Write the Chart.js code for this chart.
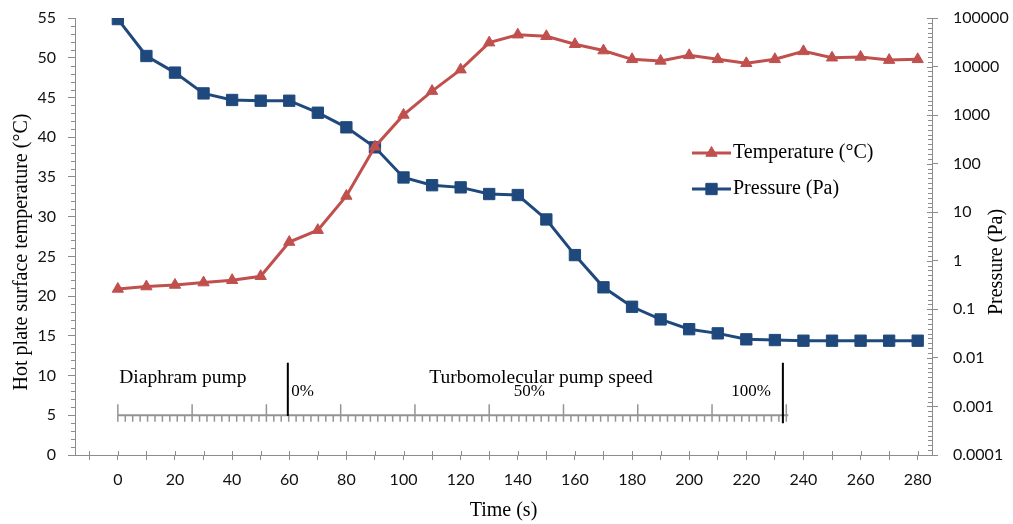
<!DOCTYPE html>
<html><head><meta charset="utf-8">
<script src="https://cdn.jsdelivr.net/npm/chart.js@4.4.1/dist/chart.umd.min.js"></script>
<style>html,body{margin:0;padding:0;background:#fff;}canvas{display:block;}</style>
</head><body>
<canvas id="c" width="1013" height="524"></canvas>
<script>
// ---- data ----
const times = [0,10,20,30,40,50,60,70,80,90,100,110,120,130,140,150,160,170,180,190,200,210,220,230,240,250,260,270,280];
const temperature = [20.9,21.2,21.4,21.7,22.0,22.5,26.8,28.3,32.6,38.8,42.8,45.8,48.5,51.9,52.9,52.7,51.7,50.9,49.8,49.6,50.3,49.8,49.3,49.8,50.8,50.0,50.1,49.7,49.8];
const pressure = [95000,16500,7500,2800,2050,1980,1980,1120,560,217,52,36,32.5,23.7,22.6,7.1,1.31,0.284,0.113,0.062,0.039,0.032,0.0241,0.0233,0.0226,0.0226,0.0226,0.0226,0.0226];
const xTickValues = [-10,0,10,20,30,40,50,60,70,80,90,100,110,120,130,140,150,160,170,180,190,200,210,220,230,240,250,260,270,280];
const xTickLabels = [0,20,40,60,80,100,120,140,160,180,200,220,240,260,280];
const yLeftTicks = [0,5,10,15,20,25,30,35,40,45,50,55];
const yRightTicks = [0.0001,0.001,0.01,0.1,1,10,100,1000,10000,100000];
// pump-speed ruler (time units)
const rulerMajor = [0,26,52,78,104,130,156,182,208,234];
const pumpMarkers = [59.5, 232.8];
const rulerLabels = ['Diaphram pump','Turbomolecular pump speed','0%','50%','100%'];

const RED = '#C0504D', BLUE = '#1F497D', AXIS = '#8c8c8c';
const SERIF = '"Liberation Serif", "Times New Roman", serif';
const SANS = 'Lato, "Open Sans", sans-serif';

const annot = {
  labels: [
    {t:0, x:0.5, y:9.0, size:19.5},
    {t:1, x:109, y:9.0, size:19.5},
    {t:2, x:60.7, y:7.4, size:17},
    {t:3, x:138.6, y:7.45, size:17},
    {t:4, x:214.7, y:7.4, size:17}
  ]
};

const noPad = s => { s.paddingTop = 0; s.paddingBottom = 0; s.paddingLeft = 0; s.paddingRight = 0; };

const decor = {
  id: 'decor',
  afterDraw(chart) {
    const {ctx, chartArea: a, scales: {x, y, y2}} = chart;
    ctx.save();
    ctx.strokeStyle = AXIS; ctx.lineWidth = 1;
    ctx.beginPath();
    for (let v = 0; v <= 55; v++) {
      if (v % 5 === 0) continue;
      const py = Math.round(y.getPixelForValue(v)) + 0.5;
      ctx.moveTo(a.left - 4, py); ctx.lineTo(a.left, py);
    }
    for (let i = 0; i < yRightTicks.length - 1; i++) {
      const p0 = y2.getPixelForValue(yRightTicks[i]), p1 = y2.getPixelForValue(yRightTicks[i + 1]);
      for (let k = 1; k < 10; k++) {
        const py = Math.round(p0 + (p1 - p0) * k / 10) + 0.5;
        ctx.moveTo(a.right - 4, py); ctx.lineTo(a.right, py);
      }
    }
    yRightTicks.forEach(v => {
      const py = Math.round(y2.getPixelForValue(v)) + 0.5;
      ctx.moveTo(a.right - 5, py); ctx.lineTo(a.right, py);
    });
    xTickValues.forEach(v => {
      const px = Math.round(x.getPixelForValue(v)) + 0.5;
      ctx.moveTo(px, a.bottom - 4); ctx.lineTo(px, a.bottom);
    });
    ctx.stroke();

    // ruler
    const ry = y.getPixelForValue(5);
    ctx.strokeStyle = '#949494';
    ctx.lineWidth = 2;
    ctx.beginPath();
    ctx.moveTo(x.getPixelForValue(rulerMajor[0]), ry);
    ctx.lineTo(x.getPixelForValue(rulerMajor[rulerMajor.length - 1]) + 2, ry);
    ctx.stroke();
    ctx.lineWidth = 1.5;
    ctx.beginPath();
    rulerMajor.forEach(v => {
      const px = x.getPixelForValue(v);
      ctx.moveTo(px, y.getPixelForValue(6.4)); ctx.lineTo(px, y.getPixelForValue(4.2));
    });
    for (let i = 0; i < rulerMajor.length - 1; i++) {
      const s = (rulerMajor[i + 1] - rulerMajor[i]) / 10;
      for (let k = 1; k < 10; k++) {
        const px = x.getPixelForValue(rulerMajor[i] + s * k);
        ctx.moveTo(px, ry); ctx.lineTo(px, y.getPixelForValue(4.2));
      }
    }
    ctx.stroke();
    ctx.strokeStyle = '#000'; ctx.lineWidth = 2;
    ctx.beginPath();
    ctx.moveTo(x.getPixelForValue(pumpMarkers[0]), y.getPixelForValue(11.6));
    ctx.lineTo(x.getPixelForValue(pumpMarkers[0]), y.getPixelForValue(4.9));
    ctx.moveTo(x.getPixelForValue(pumpMarkers[1]), y.getPixelForValue(11.6));
    ctx.lineTo(x.getPixelForValue(pumpMarkers[1]), y.getPixelForValue(4.0));
    ctx.stroke();
    ctx.fillStyle = '#000'; ctx.textBaseline = 'alphabetic'; ctx.textAlign = 'left';
    annot.labels.forEach(l => {
      ctx.font = l.size + 'px ' + SERIF;
      ctx.fillText(rulerLabels[l.t], x.getPixelForValue(l.x), y.getPixelForValue(l.y));
    });

    // axis titles
    ctx.font = '20px ' + SERIF; ctx.textAlign = 'center'; ctx.textBaseline = 'middle';
    ctx.save(); ctx.translate(22, 252); ctx.rotate(-Math.PI / 2);
    ctx.fillText('Hot plate surface temperature (°C)', 0, 0); ctx.restore();
    ctx.save(); ctx.translate(997, 262); ctx.rotate(-Math.PI / 2);
    ctx.fillText('Pressure (Pa)', 0, 0); ctx.restore();

    // legend
    const lg = {x0: 692, x1: 731, tx: 733, ys: [153, 189]};
    chart.data.datasets.forEach((ds, i) => {
      const ly = lg.ys[i];
      ctx.strokeStyle = ds.borderColor; ctx.lineWidth = 3;
      ctx.beginPath(); ctx.moveTo(lg.x0, ly); ctx.lineTo(lg.x1, ly); ctx.stroke();
      ctx.fillStyle = ds.backgroundColor; ctx.strokeStyle = ds.borderColor; ctx.lineWidth = 1;
      Chart.helpers.drawPoint(ctx, {pointStyle: ds.pointStyle, radius: ds.pointRadius, borderWidth: 1, rotation: 0},
        (lg.x0 + lg.x1) / 2, ly);
      ctx.fillStyle = '#000'; ctx.font = '20px ' + SERIF; ctx.textAlign = 'left'; ctx.textBaseline = 'middle';
      ctx.fillText(ds.label, lg.tx, ly);
    });
    ctx.restore();
  }
};

new Chart(document.getElementById('c'), {
  type: 'line',
  data: {
    datasets: [
      {label: 'Temperature (°C)', data: times.map((t, i) => ({x: t, y: temperature[i]})), yAxisID: 'y',
       borderColor: RED, backgroundColor: RED, borderWidth: 3, pointStyle: 'triangle', pointRadius: 6.5,
       pointBorderWidth: 1, pointBorderColor: RED, pointBackgroundColor: RED, tension: 0},
      {label: 'Pressure (Pa)', data: times.map((t, i) => ({x: t, y: pressure[i]})), yAxisID: 'y2',
       borderColor: BLUE, backgroundColor: BLUE, borderWidth: 3, pointStyle: 'rect', pointRadius: 8,
       pointBorderWidth: 1, pointBorderColor: BLUE, pointBackgroundColor: BLUE, tension: 0}
    ]
  },
  options: {
    responsive: false, animation: false,
    layout: {padding: {top: 18, left: 0, right: 0, bottom: 0}},
    plugins: {legend: {display: false}, tooltip: {enabled: false}},
    scales: {
      x: {
        type: 'linear', min: -15, max: 285,
        afterBuildTicks: s => { s.ticks = xTickValues.map(v => ({value: v})); },
        afterFit: s => { s.height = 69; noPad(s); },
        grid: {drawOnChartArea: false, drawTicks: true, tickLength: 5, color: AXIS},
        border: {color: AXIS, width: 1},
        ticks: {autoSkip: false, maxRotation: 0, padding: 10, color: '#111', font: {family: SANS, size: 16},
                callback: v => xTickLabels.includes(v) ? String(v) : ''},
        title: {display: true, text: 'Time (s)', font: {family: SERIF, size: 20}, color: '#000', padding: {top: 0, bottom: 1}}
      },
      y: {
        type: 'linear', position: 'left', min: 0, max: 55,
        afterBuildTicks: s => { s.ticks = yLeftTicks.map(v => ({value: v})); },
        afterFit: s => { s.width = 75; noPad(s); },
        grid: {drawOnChartArea: false, drawTicks: true, tickLength: 7, color: AXIS},
        border: {color: AXIS, width: 1},
        ticks: {padding: 12, color: '#111', font: {family: SANS, size: 16}}
      },
      y2: {
        type: 'logarithmic', position: 'right', min: 0.0001, max: 100000,
        afterBuildTicks: s => { s.ticks = yRightTicks.map(v => ({value: v})); },
        afterFit: s => { s.width = 81; noPad(s); },
        grid: {drawOnChartArea: false, drawTicks: true, tickLength: 6, color: AXIS},
        border: {color: AXIS, width: 1},
        ticks: {padding: 15, color: '#111', font: {family: SANS, size: 16}, callback: v => String(v)}
      }
    }
  },
  plugins: [decor]
});
</script>
</body></html>
